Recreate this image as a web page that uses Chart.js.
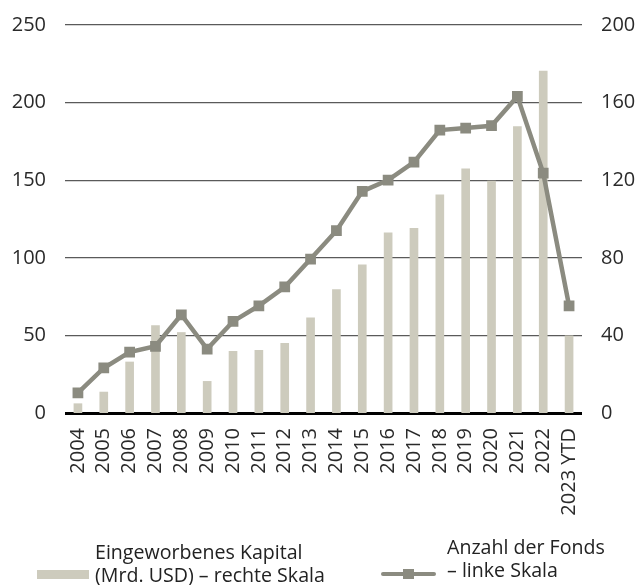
<!DOCTYPE html>
<html>
<head>
<meta charset="utf-8">
<script src="https://cdn.jsdelivr.net/npm/chart.js@4/dist/chart.umd.min.js"></script>
<style>
  html, body { margin: 0; padding: 0; background: #ffffff; }
  #wrap { position: relative; width: 638px; height: 585px; overflow: hidden; }
  #c { position: absolute; left: 0; top: 0; }
  .lg { position: absolute; font-family: "Open Sans", sans-serif; font-size: 19.6px; line-height: 22.6px; color: #222; white-space: nowrap; }
  .sw { position: absolute; }
</style>
</head>
<body>
<div id="wrap">
  <canvas id="c" width="638" height="585"></canvas>
  <div class="sw" id="sw1" style="left:37px;top:570px;width:52px;height:9px;background:#cdcbbd;"></div>
  <div class="lg" id="lg1" style="left:95px;top:541px;">Eingeworbenes Kapital<br>(Mrd. USD) – rechte Skala</div>
  <div class="sw" style="left:381px;top:572px;width:55px;height:4px;background:#8b8b80;border-radius:2px;"></div>
  <div class="sw" style="left:403px;top:569px;width:11px;height:10px;background:#8b8b80;"></div>
  <div class="lg" id="lg2" style="left:447px;top:536px;">Anzahl der Fonds<br>– linke Skala</div>
</div>
<script>
const categories = ["2004","2005","2006","2007","2008","2009","2010","2011","2012","2013","2014","2015","2016","2017","2018","2019","2020","2021","2022","2023 YTD"];
const capitalRaised = [4.8, 10.8, 26.3, 45, 41.5, 16.3, 31.8, 32.3, 35.9, 49, 63.6, 76.4, 92.9, 95.2, 112.4, 125.9, 119.6, 147.7, 176.3, 39.8];
const fundCount = [13, 29, 39.3, 43, 63.3, 41.2, 59, 69.1, 81.2, 99.2, 117.5, 142.8, 150.1, 161.7, 182.3, 183.6, 185.1, 204, 154.6, 69.1];
const leftTicks = [0, 50, 100, 150, 200, 250];
const rightTicks = [0, 40, 80, 120, 160, 200];
const barLabel = "Eingeworbenes Kapital (Mrd. USD) – rechte Skala";
const lineLabel = "Anzahl der Fonds – linke Skala";

const tickFont = { family: "'Open Sans', sans-serif", size: 20 };
const tickColor = "#2a2a2a";

new Chart(document.getElementById("c"), {
  data: {
    labels: categories,
    datasets: [
      {
        type: "line",
        label: lineLabel,
        data: fundCount,
        yAxisID: "yL",
        borderColor: "#8b8b80",
        backgroundColor: "#8b8b80",
        borderWidth: 4.5,
        pointStyle: "rect",
        pointRadius: 7.6,
        pointHoverRadius: 7.6,
        pointBorderWidth: 0,
        tension: 0,
        order: 0
      },
      {
        type: "bar",
        label: barLabel,
        data: capitalRaised,
        yAxisID: "yR",
        backgroundColor: "#cdcbbd",
        borderWidth: 0,
        barThickness: 8,
        order: 1
      }
    ]
  },
  options: {
    responsive: false,
    animation: false,
    devicePixelRatio: 1,
    layout: { padding: { top: 25, left: 0, right: 0, bottom: 0 } },
    plugins: { legend: { display: false }, tooltip: { enabled: false } },
    scales: {
      x: {
        grid: { display: false, drawTicks: false },
        border: { display: false },
        ticks: {
          font: tickFont, color: tickColor,
          minRotation: 90, maxRotation: 90, padding: 15, autoSkip: false
        },
        afterFit: s => { s.height = 172; }
      },
      yL: {
        position: "left",
        min: 0, max: 250,
        afterBuildTicks: s => { s.ticks = leftTicks.map(v => ({ value: v })); },
        border: { display: false },
        grid: {
          drawTicks: false,
          color: c => c.tick && c.tick.value === 0 ? "#000000" : "#5a5a5a",
          lineWidth: c => c.tick && c.tick.value === 0 ? 3 : 1.2
        },
        ticks: { font: tickFont, color: tickColor, padding: 19 },
        afterFit: s => { s.width = 65; s.paddingTop = 0; s.paddingBottom = 0; }
      },
      yR: {
        position: "right",
        min: 0, max: 200,
        afterBuildTicks: s => { s.ticks = rightTicks.map(v => ({ value: v })); },
        border: { display: false },
        grid: { display: false, drawTicks: false },
        ticks: { font: tickFont, color: tickColor, padding: 19 },
        afterFit: s => { s.width = 56; s.paddingTop = 0; s.paddingBottom = 0; }
      }
    }
  }
});
</script>
</body>
</html>
